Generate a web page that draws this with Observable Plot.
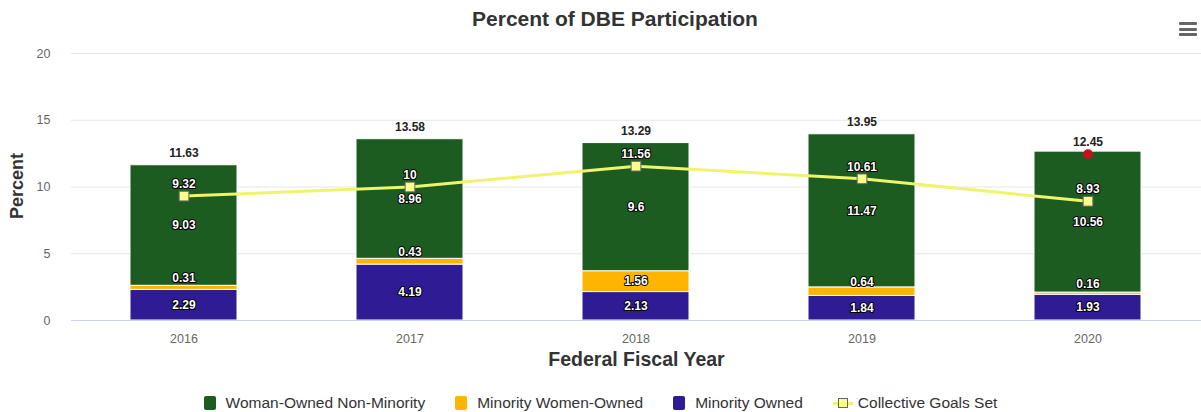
<!DOCTYPE html>
<html><head><meta charset="utf-8">
<script src="https://cdn.jsdelivr.net/npm/d3@7"></script>
<script src="https://cdn.jsdelivr.net/npm/@observablehq/plot@0.6"></script>
<style>
body{margin:0;background:#fff;font-family:"Liberation Sans",Arial,sans-serif;}
#wrap{position:relative;width:1201px;height:412px;overflow:hidden;}
#title{position:absolute;top:7px;left:615px;transform:translateX(-50%);white-space:nowrap;font-size:21px;font-weight:bold;color:#333;}
#menu{position:absolute;left:1179px;top:22px;width:18px;}
#menu div{height:3px;background:#666;margin-bottom:2.5px;border-radius:1px;}
#chart{position:absolute;top:40px;left:0;}
#ylabel{position:absolute;left:17px;top:186px;transform:translate(-50%,-50%) rotate(-90deg);white-space:nowrap;font-size:18px;font-weight:bold;color:#333;line-height:1;}
#legend{position:absolute;top:394px;left:0;width:1201px;display:flex;justify-content:center;gap:30px;font-size:15.5px;color:#333;}
.item{display:flex;align-items:center;gap:10px;white-space:nowrap;}
.sw{width:12px;height:14px;border-radius:2px;}
.ln{position:relative;width:20px;height:14px;}
.ln .l{position:absolute;left:0;top:6px;width:20px;height:3px;background:#eef56c;}
.ln .m{position:absolute;left:5px;top:2px;width:8px;height:8px;background:#fbfb8e;border:1px solid #666;}
</style>
</head><body>
<div id="wrap">
  <div id="title">Percent of DBE Participation</div>
  <div id="menu"><div></div><div></div><div></div></div>
  <div id="chart"></div>
  <div id="ylabel">Percent</div>
  <div id="legend"></div>
</div>
<script>
const years = ["2016", "2017", "2018", "2019", "2020"];
const seriesNames = ["Minority Owned", "Minority Women-Owned", "Woman-Owned Non-Minority"];
const minorityOwned = [2.29, 4.19, 2.13, 1.84, 1.93];
const minorityWomenOwned = [0.31, 0.43, 1.56, 0.64, 0.16];
const womanOwnedNonMinority = [9.03, 8.96, 9.6, 11.47, 10.56];
const totals = [11.63, 13.58, 13.29, 13.95, 12.45];
const goals = [9.32, 10, 11.56, 10.61, 8.93];
const goalName = "Collective Goals Set";
const yTicks = [0, 5, 10, 15, 20];
const highlightYear = "2020";
const seriesColors = ["#2f1b93", "#ffb400", "#1d5c21"];
const legendOrder = ["Woman-Owned Non-Minority", "Minority Women-Owned", "Minority Owned"];

const seriesValues = [minorityOwned, minorityWomenOwned, womanOwnedNonMinority];
const rows = [];
seriesNames.forEach((s, si) => years.forEach((y, yi) => rows.push({year: y, series: s, value: seriesValues[si][yi]})));
const totalRows = years.map((y, i) => ({year: y, total: totals[i]}));
const goalRows = years.map((y, i) => ({year: y, goal: goals[i]}));

const labelStyle = {fill: "white", stroke: "#000", strokeWidth: 2, strokeLinejoin: "round", fontWeight: "bold", fontSize: 12};

const chart = Plot.plot({
  width: 1201, height: 345,
  marginTop: 13, marginBottom: 65, marginLeft: 71, marginRight: 0,
  style: {fontFamily: "'Liberation Sans', Arial, sans-serif", background: "white", overflow: "visible"},
  x: {domain: years, paddingInner: 0.525, paddingOuter: 0.26, label: null},
  y: {domain: [0, 20], label: null},
  color: {domain: seriesNames, range: seriesColors},
  marks: [
    Plot.gridY(yTicks, {stroke: "#e6e6e6", strokeOpacity: 1}),
    Plot.axisY(yTicks, {tickSize: 0, tickPadding: 21, color: "#666", fontSize: 12.5, label: null}),
    Plot.axisX({tickSize: 0, tickPadding: 14, color: "#666", fontSize: 12.5, label: null}),
    Plot.barY(rows, {x: "year", y: "value", z: "series", fill: "series", order: seriesNames, stroke: "white", strokeWidth: 1}),
    Plot.ruleY([0], {stroke: "#ccd6eb"}),
    Plot.text(rows, Plot.stackY({x: "year", y: "value", z: "series", order: seriesNames, text: d => d.value >= 1 ? String(d.value) : "", ...labelStyle})),
    Plot.text(rows, Plot.stackY({x: "year", y: "value", z: "series", order: seriesNames, text: d => d.value < 1 ? String(d.value) : "", dy: -10, ...labelStyle})),
    Plot.line(goalRows, {x: "year", y: "goal", stroke: "#eef56c", strokeWidth: 3}),
    Plot.dot(goalRows, {x: "year", y: "goal", symbol: "square", r: 5.5, fill: "#fbfb8e", stroke: "#666", strokeWidth: 1}),
    Plot.text(goalRows, {x: "year", y: "goal", text: d => String(d.goal), dy: -12, ...labelStyle}),
    Plot.text(totalRows, {x: "year", y: "total", text: d => String(d.total), dy: -12, fill: "#222", fontWeight: "bold", fontSize: 12}),
    Plot.dot(totalRows.filter(d => d.year === highlightYear), {x: "year", y: "total", r: 5, fill: "#c0131a"}),
    Plot.text(["Federal Fiscal Year"], {frameAnchor: "bottom", dy: 45, fontSize: 19.5, fontWeight: "bold", fill: "#333"})
  ]
});
document.getElementById("chart").appendChild(chart);

const legend = document.getElementById("legend");
legendOrder.forEach(name => {
  const it = document.createElement("div"); it.className = "item";
  const sw = document.createElement("div"); sw.className = "sw";
  sw.style.background = seriesColors[seriesNames.indexOf(name)];
  const t = document.createElement("span"); t.textContent = name;
  it.appendChild(sw); it.appendChild(t); legend.appendChild(it);
});
{
  const it = document.createElement("div"); it.className = "item"; it.style.gap = "5px";
  const ln = document.createElement("div"); ln.className = "ln";
  ln.innerHTML = '<div class="l"></div><div class="m"></div>';
  const t = document.createElement("span"); t.textContent = goalName;
  it.appendChild(ln); it.appendChild(t); legend.appendChild(it);
}
</script>
</body></html>
